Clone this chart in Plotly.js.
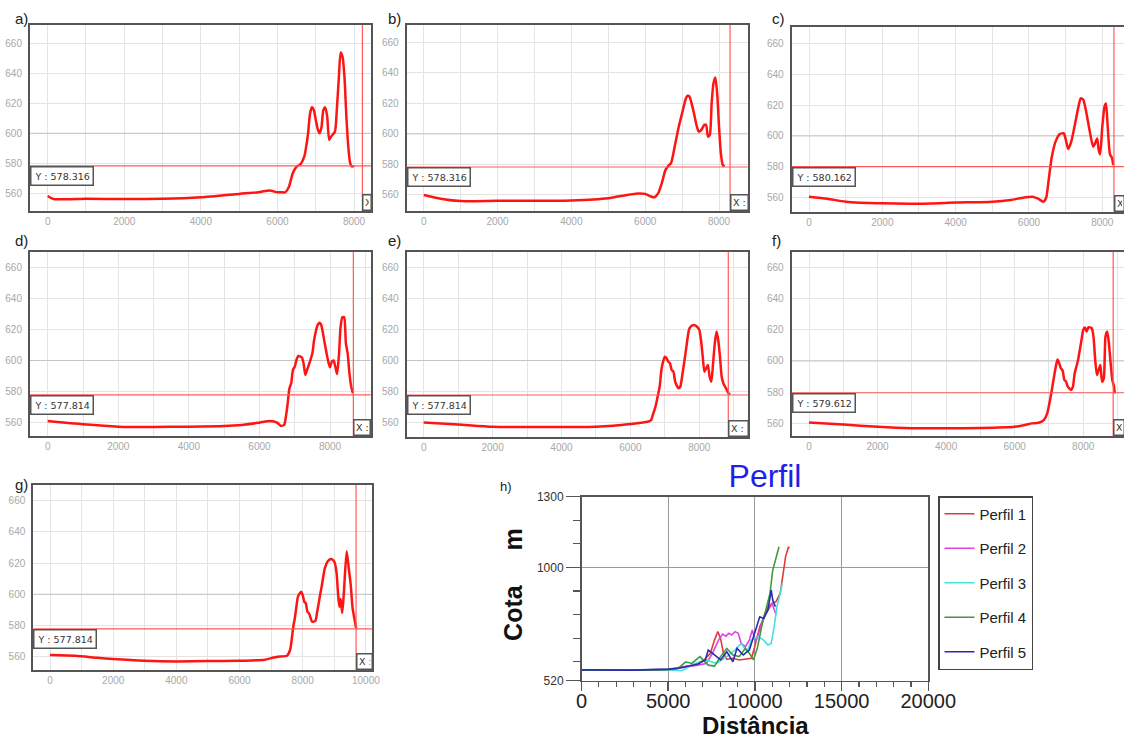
<!DOCTYPE html>
<html>
<head>
<meta charset="utf-8">
<script src="https://cdn.plot.ly/plotly-3.0.1.min.js"></script>
<style>
html,body{margin:0;padding:0;background:#fff;}
#chart{width:1124px;height:738px;}
</style>
</head>
<body>
<div id="chart"></div>
<script>
// ---------- DATA: small profile panels a) .. g) ----------
const panelLabels = ['a)', 'b)', 'c)', 'd)', 'e)', 'f)', 'g)'];

const distA = [0,150,500,1000,2000,3000,4000,5000,5500,5800,6000,6100,6200,6300,6400,6500,6600,6700,6750,6800,6850,6900,6950,7000,7050,7100,7150,7200,7250,7300,7350,7400,7500,7550,7600,7650,7700,7750,7800,7850,7900,7950,8000];
const cotaA = [558.2,556.2,556,556.3,556.2,556.3,557.3,559.6,560.7,561.8,560.7,560.7,560.7,564.4,573.3,577.8,579.3,584.4,591,600,613,617.3,615.6,609,603,600,604,615.6,617.3,611,595.6,597.8,601,615.6,635.6,653.8,651,637.8,611,591,580,577.8,578.4];

const distB = [0,500,1000,2000,3000,4000,5000,5500,5800,6000,6150,6250,6350,6450,6550,6650,6700,6800,6900,7000,7100,7150,7200,7300,7400,7450,7500,7550,7600,7650,7700,7750,7800,7850,7900,7950,8000,8050,8100,8150];
const cotaB = [560,557.4,556,556.2,556.2,556.4,557.8,560,561,560.7,559,558.5,561,567.7,576.4,579.7,580.8,591.7,603.7,613.5,623,625,624.4,615.7,604.8,601.5,602,603.7,605.9,605.9,598.2,599.3,620,633.1,637,626.6,604.8,587.3,579.7,578.6];

const distC = [0,500,1000,2000,3000,4000,5000,5500,5800,6100,6250,6390,6470,6540,6620,6720,6840,6950,7000,7070,7150,7250,7350,7410,7480,7550,7650,7750,7800,7860,7900,7940,8000,8060,8100,8150,8210,8260,8300];
const cotaC = [560.6,559.3,557.4,556.3,556.1,556.8,557.4,558.5,559.8,560.6,559.3,557.4,560,572,586,596,601.2,601.7,598,591.5,596,607,619,624.4,623.5,617,604,593,595,598.4,591,588,606,619,621,605,588,586,581.2];

const distD = [0,1000,2000,3000,4000,5000,5500,6000,6300,6500,6600,6700,6750,6800,6850,6900,6950,7000,7050,7100,7200,7250,7300,7350,7400,7500,7550,7650,7700,7750,7850,7950,8000,8050,8100,8150,8200,8250,8300,8350,8400,8450,8500,8550,8600,8650];
const cotaD = [561,558.9,557.4,557.2,557.4,557.8,558.5,560,561,560,558,558.5,563.9,572.4,582.1,585.3,594,596,600.3,602.9,602,598.2,590.7,594,597.1,604.6,613.2,622.9,624.2,622.9,611,599.3,595.6,599.3,600,596,591.3,602.5,621.8,627.8,627.8,611,604.6,591.8,583.2,578.9];

const distE = [0,1000,2000,3000,4000,5000,5500,6000,6300,6500,6600,6650,6700,6750,6800,6850,6900,6950,7000,7050,7100,7150,7200,7250,7300,7400,7450,7500,7600,7700,7750,7850,7950,8000,8050,8100,8150,8200,8250,8300,8350,8400,8450,8500,8550,8600,8650,8700,8800,8850,8900];
const cotaE = [560.2,558.9,557.4,557.2,557.2,557.4,558,559.1,560,560.6,561.7,565,568.2,572.4,577.8,583.2,593.9,599.3,602.5,601.4,599.3,598.2,593.9,592.8,586.4,582.1,583.2,589.6,604.6,619.7,621.8,622.9,621.4,619.7,613.2,602.5,592.8,595,597.1,589.6,586.4,598.2,611,618.6,613.2,602.5,589.6,585.3,581,578.9,578.5];

const distF = [0,1000,2000,3000,4000,5000,6000,6300,6500,6700,6850,6950,7050,7100,7200,7250,7300,7350,7400,7450,7500,7550,7650,7700,7750,7800,7850,7900,7950,8000,8050,8100,8150,8200,8250,8300,8350,8400,8450,8500,8550,8600,8650,8700,8750,8800,8850,8900,8920];
const cotaF = [560.6,559.3,557.8,556.9,556.8,557,557.8,558.9,560,560.4,562.1,566.4,577.1,583.5,596.3,601,598.5,595.2,593.8,587.8,586.7,583.5,581.4,583.5,592,596.3,600.6,607,613.4,619.8,621.5,618.8,621.5,621.5,620.9,615.6,600.6,591,594.2,597.4,586.7,588.8,615.6,618.8,611.3,598.5,587.8,583.5,579.2];

const distG = [0,800,1500,2000,3000,4000,5000,6000,6800,7000,7200,7500,7600,7650,7700,7750,7800,7850,7950,8000,8050,8100,8150,8200,8300,8400,8450,8550,8600,8700,8800,8900,9000,9070,9120,9160,9200,9250,9300,9390,9450,9520,9580,9640,9690];
const cotaG = [561.1,560.6,559.3,558.5,557.4,557,557.2,557.4,558.1,559.1,560,560.6,564.3,570.7,579.2,584.6,592,598.5,601.7,599.5,595.2,594.2,588.8,587.8,582.4,582.9,587.8,599.5,604.9,616.6,621.3,622.6,620.9,614,600,592,597,588,600,627.5,618,606,591,584,578.2];

const crossX = [8218, 8299, 8318, 8661, 8842, 8874, 9689];
const crossY = [578.316, 578.316, 580.162, 577.814, 577.814, 579.612, 577.814];
const refGridY = 600;

// ---------- DATA: panel h) ----------
const perfilNames = ['Perfil 1', 'Perfil 2', 'Perfil 3', 'Perfil 4', 'Perfil 5'];
const perfilColors = ['#e03a3a', '#dd44dd', '#44e0e0', '#3f9a3f', '#2b2bb0'];
const dist1 = [0,1000,3000,5000,5600,6000,6480,7070,7430,7670,7860,8020,8190,8380,8730,9090,9450,9800,9990,10280,10630,10990,11220,11460,11630,11770,11940,11980];
const cota1 = [566,565,565,568,575,580,586,608,636,692,728,699,636,610,615,608,612,615,664,749,805,848,855,890,975,1046,1088,1081];
const dist2 = [0,1000,3000,5000,5600,6200,6700,7190,7550,7900,8140,8330,8500,8660,8850,9040,9210,9450,9680,9850,10040,10280,10510,10750,10990,11220];
const cota2 = [565,564,564,567,573,580,586,593,636,692,718,709,721,714,728,721,678,664,692,735,685,735,791,834,848,800];
const dist3 = [0,1000,3000,5000,5770,6480,7190,7780,8380,8850,9210,9560,9800,10160,10510,10750,10940,11110,11270,11460,11580];
const cota3 = [565,564,564,567,562,591,608,593,622,650,678,643,692,707,692,671,678,749,834,890,933];
const dist4 = [0,1000,3000,5000,5600,6000,6360,6830,7310,7670,8020,8380,8730,9090,9450,9680,9920,10160,10390,10630,10870,11030,11220,11390];
const cota4 = [565,564,564,567,573,600,593,622,586,582,622,657,629,622,657,636,608,664,749,820,890,989,1046,1088];
const dist5 = [0,1000,3000,5000,5500,6000,6720,7140,7310,7670,8020,8380,8730,8970,9330,9680,9990,10280,10510,10750,10940,11030,11180];
const cota5 = [566,565,565,569,572,579,591,608,650,629,608,643,600,657,629,650,721,791,784,820,904,862,834];

// ---------- GEOMETRY (pixels in the 1124x738 page) ----------
const W = 1124, H = 738;
const boxes = [
  {l:30,    r:371,  t:25,    b:211,   xr:[-462,8443],  yr:[548.2,672.2], right:true,  lab:[13,18]},
  {l:406.7, r:747.7,t:25,    b:211,   xr:[-461,8777],  yr:[549.5,671.3], right:true,  lab:[386,18]},
  {l:791.7, r:1124, t:27.3,  b:211.7, xr:[-472,8592],  yr:[550.9,670.4], right:false, lab:[770,19]},
  {l:30,    r:370.7,t:251.7, b:436,   xr:[-502,9153],  yr:[551.4,670],   right:true,  lab:[13,240]},
  {l:406.7, r:748,  t:251.7, b:436.7, xr:[-493,9414],  yr:[551,670],     right:true,  lab:[386,240]},
  {l:791.7, r:1124, t:251.7, b:436,   xr:[-505,9190],  yr:[551.9,670],   right:false, lab:[770,240]},
  {l:33.3,  r:372.3,t:485,   b:670,   xr:[-529,10203], yr:[551.5,670],   right:true,  lab:[13,484]}
];
const boxH = {l:581.5, r:928.3, t:496.7, b:680.7};

const dists = [distA, distB, distC, distD, distE, distF, distG];
const cotas = [cotaA, cotaB, cotaC, cotaD, cotaE, cotaF, cotaG];
const hDists = [dist1, dist2, dist3, dist4, dist5];
const hCotas = [cota1, cota2, cota3, cota4, cota5];

const sfx = n => (n === 1 ? '' : String(n));
const traces = [];
const shapes = [];
const annotations = [];
const layout = {
  width: W, height: H,
  margin: {l:0, r:0, t:0, b:0},
  paper_bgcolor: '#ffffff',
  plot_bgcolor: '#ffffff',
  font: {family: 'Liberation Sans, Arial, sans-serif'},
  showlegend: true
};

const tickFontSmall = {family: 'Liberation Sans, Arial, sans-serif', size: 10, color: '#a8a8a8'};
const gridC = '#e4e4e4';

boxes.forEach((bx, i) => {
  const n = i + 1, s = sfx(n);
  layout['xaxis' + s] = {
    domain: [bx.l / W, bx.r / W], range: bx.xr, anchor: 'y' + s,
    tick0: 0, dtick: 2000, tickformat: 'd', showgrid: true, gridcolor: gridC, gridwidth: 1,
    minor: {dtick: 1000, tick0: 0, showgrid: true, gridcolor: gridC, gridwidth: 1},
    showline: true, mirror: true, linecolor: '#555555', linewidth: 2,
    zeroline: false, ticks: '', ticklabelstandoff: 0, tickfont: tickFontSmall, fixedrange: true
  };
  layout['yaxis' + s] = {
    domain: [1 - bx.b / H, 1 - bx.t / H], range: bx.yr, anchor: 'x' + s,
    tick0: 0, dtick: 20, showgrid: true, gridcolor: gridC, gridwidth: 1,
    showline: true, mirror: bx.right, linecolor: '#555555', linewidth: 2,
    zeroline: false, ticks: '', ticklabelstandoff: 4, tickfont: tickFontSmall, fixedrange: true
  };
  // darker reference gridline at 600 (drawn under the profile)
  traces.push({
    type: 'scatter', mode: 'lines', x: bx.xr, y: [refGridY, refGridY],
    xaxis: 'x' + s, yaxis: 'y' + s, showlegend: false, hoverinfo: 'skip',
    line: {color: '#c4c4c4', width: 1}
  });
  traces.push({
    type: 'scatter', mode: 'lines', x: dists[i], y: cotas[i],
    xaxis: 'x' + s, yaxis: 'y' + s, showlegend: false, hoverinfo: 'skip',
    line: {color: '#ff1414', width: 2.5, shape: 'spline', smoothing: 0.6}
  });
  // crosshair
  shapes.push({type: 'line', layer: 'above', xref: 'x' + s + ' domain', x0: 0, x1: 1,
    yref: 'y' + s, y0: crossY[i], y1: crossY[i], line: {color: '#ff5a5a', width: 1.2}});
  shapes.push({type: 'line', layer: 'above', xref: 'x' + s, x0: crossX[i], x1: crossX[i],
    yref: 'y' + s + ' domain', y0: 0, y1: 1, line: {color: '#ff5a5a', width: 1.2}});
  // Y value box
  annotations.push({
    xref: 'x' + s + ' domain', x: 0, xanchor: 'left', yref: 'y' + s, y: crossY[i], yanchor: 'top',
    text: 'Y : ' + crossY[i].toFixed(3), showarrow: false, align: 'left',
    font: {family: 'DejaVu Sans, Verdana, sans-serif', size: 9.5, color: '#333333'},
    bgcolor: '#ffffff', bordercolor: '#555555', borderwidth: 1.5, borderpad: 3
  });
  // X value box (clipped by plot edge)
  const pxPerUnit = (bx.r - bx.l) / (bx.xr[1] - bx.xr[0]);
  const avail = (bx.xr[1] - crossX[i]) * pxPerUnit;
  const wBox = Math.max(2, avail - 2 * 1 - 1.5 - 1.5);
  annotations.push({
    xref: 'x' + s, x: crossX[i], xanchor: 'left', yref: 'y' + s + ' domain', y: 0, yanchor: 'bottom',
    text: bx.right ? 'X : ' : 'X', showarrow: false, align: 'left', width: wBox,
    font: {family: 'DejaVu Sans, Verdana, sans-serif', size: 9.5, color: '#333333'},
    bgcolor: '#ffffff', bordercolor: '#555555', borderwidth: 1.5, borderpad: 1.5
  });
  // panel label
  annotations.push({
    xref: 'paper', yref: 'paper', x: bx.lab[0] / W, y: 1 - bx.lab[1] / H,
    xanchor: 'left', yanchor: 'middle', text: panelLabels[i], showarrow: false,
    font: {family: 'Liberation Sans, Arial, sans-serif', size: 15, color: '#222222'}
  });
});

// ---------- panel h ----------
layout.xaxis8 = {
  domain: [boxH.l / W, boxH.r / W], range: [0, 20000], anchor: 'y8',
  tick0: 0, dtick: 5000, tickformat: 'd',
  ticks: 'outside', ticklen: 9, tickwidth: 1.5, tickcolor: '#555555',
  minor: {tick0: 0, dtick: 1000, ticks: 'outside', ticklen: 5, tickwidth: 1.2, tickcolor: '#555555', showgrid: false},
  showgrid: true, gridcolor: '#9a9a9a', gridwidth: 1,
  showline: true, mirror: true, linecolor: '#555555', linewidth: 1.5,
  zeroline: false, ticklabelstandoff: -7,
  tickfont: {family: 'Liberation Sans, Arial, sans-serif', size: 20, color: '#222222'},
  fixedrange: true
};
layout.yaxis8 = {
  domain: [1 - boxH.b / H, 1 - boxH.t / H], range: [520, 1300], anchor: 'x8',
  tickmode: 'array', tickvals: [520, 1000, 1300],
  ticks: 'outside', ticklen: 14, tickwidth: 1.5, tickcolor: '#555555',
  minor: {tickmode: 'linear', tick0: 0, dtick: 100, ticks: 'outside', ticklen: 7, tickwidth: 1.2, tickcolor: '#555555', showgrid: false},
  showgrid: true, gridcolor: '#9a9a9a', gridwidth: 1,
  showline: true, mirror: true, linecolor: '#555555', linewidth: 1.5,
  zeroline: false, tickfont: {family: 'Liberation Sans, Arial, sans-serif', size: 12, color: '#333333'},
  fixedrange: true
};
hDists.forEach((d, k) => {
  traces.push({
    type: 'scatter', mode: 'lines', x: d, y: hCotas[k], name: perfilNames[k],
    legendgroup: 'g' + k, xaxis: 'x8', yaxis: 'y8', hoverinfo: 'skip',
    line: {color: perfilColors[k], width: 1.6}
  });
});
layout.legend = {
  x: 938 / W, y: 1 - 496 / H, xanchor: 'left', yanchor: 'top',
  bordercolor: '#444444', borderwidth: 1.5, bgcolor: '#ffffff',
  font: {family: 'Liberation Sans, Arial, sans-serif', size: 15, color: '#222222'},
  traceorder: 'grouped', tracegroupgap: 12, itemwidth: 30
};
layout.title = {
  text: 'Perfil', x: 765 / W, y: 1 - 476 / H, xref: 'paper', yref: 'paper',
  xanchor: 'center', yanchor: 'middle',
  font: {family: 'Liberation Sans, Arial, sans-serif', size: 32, color: '#1f1fe8'}
};
annotations.push({
  xref: 'paper', yref: 'paper', x: 512.9 / W, y: 1 - 584 / H, xanchor: 'center', yanchor: 'middle',
  textangle: -90, showarrow: false,
  text: '<b>Cota\u00a0\u00a0\u00a0\u00a0\u00a0m</b>',
  font: {family: 'Liberation Sans, Arial, sans-serif', size: 25, color: '#111111'}
});
annotations.push({
  xref: 'paper', yref: 'paper', x: 755 / W, y: 1 - 725.5 / H, xanchor: 'center', yanchor: 'middle',
  showarrow: false, text: '<b>Distância</b>',
  font: {family: 'Liberation Sans, Arial, sans-serif', size: 24, color: '#111111'}
});
annotations.push({
  xref: 'paper', yref: 'paper', x: 498 / W, y: 1 - 486 / H, xanchor: 'left', yanchor: 'middle',
  showarrow: false, text: 'h)',
  font: {family: 'Liberation Sans, Arial, sans-serif', size: 13, color: '#222222'}
});

layout.shapes = shapes;
layout.annotations = annotations;

Plotly.newPlot('chart', traces, layout, {displayModeBar: false, staticPlot: true});
</script>
</body>
</html>
